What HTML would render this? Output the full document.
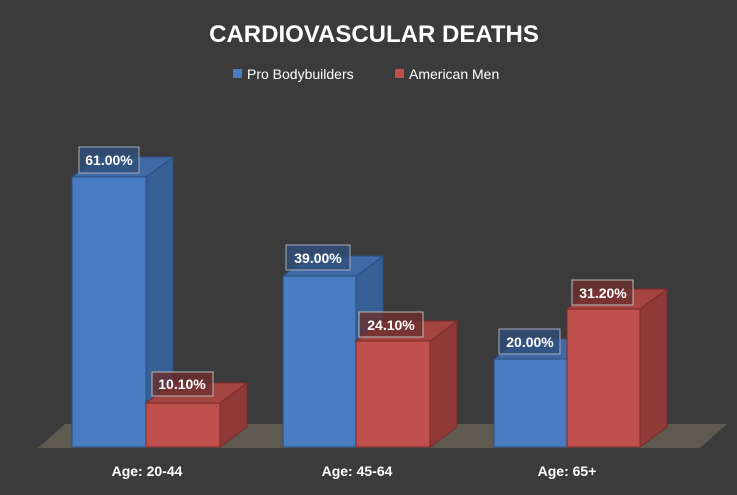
<!DOCTYPE html>
<html><head><style>
body{margin:0;background:#3b3b3b;}
svg{display:block;font-family:"Liberation Sans",sans-serif;}
</style></head><body>
<svg width="737" height="495" viewBox="0 0 737 495">
<rect width="737" height="495" fill="#3b3b3b"/>
<text x="374" y="42" fill="#fff" font-size="24" font-weight="bold" text-anchor="middle">CARDIOVASCULAR DEATHS</text>
<rect x="233" y="69" width="9" height="9" fill="#4a7cc2"/>
<text x="247" y="79" fill="#fff" font-size="14">Pro Bodybuilders</text>
<rect x="395" y="69" width="9" height="9" fill="#c0504d"/>
<text x="409" y="79" fill="#fff" font-size="14">American Men</text>
<polygon points="38,448 700,448 727,424 65,424" fill="#5e5a50"/>
<g stroke-width="1">
<!-- group1 blue -->
<polygon points="146,177 173,157 173,427 146,447" fill="#365f96" stroke="#2b4d7e"/>
<polygon points="72,177 99,157 173,157 146,177" fill="#3f6aa6" stroke="#2b4d7e"/>
<rect x="72" y="177" width="74" height="270" fill="#4a7cc2" stroke="#2b4d7e"/>
<!-- group1 red -->
<polygon points="220,403 247,383 247,427 220,447" fill="#8f3a38" stroke="#7a2a28"/>
<polygon points="146,403 173,383 247,383 220,403" fill="#a54542" stroke="#7a2a28"/>
<rect x="146" y="403" width="74" height="44" fill="#c0504d" stroke="#7a2a28"/>
<!-- group2 blue -->
<polygon points="356,276 383,256 383,427 356,447" fill="#365f96" stroke="#2b4d7e"/>
<polygon points="283,276 310,256 383,256 356,276" fill="#3f6aa6" stroke="#2b4d7e"/>
<rect x="283" y="276" width="73" height="171" fill="#4a7cc2" stroke="#2b4d7e"/>
<!-- group2 red -->
<polygon points="430,341 457,321 457,427 430,447" fill="#8f3a38" stroke="#7a2a28"/>
<polygon points="356,341 383,321 457,321 430,341" fill="#a54542" stroke="#7a2a28"/>
<rect x="356" y="341" width="74" height="106" fill="#c0504d" stroke="#7a2a28"/>
<!-- group3 blue -->
<polygon points="494,359 521,339 594,339 567,359" fill="#3f6aa6" stroke="#2b4d7e"/>
<rect x="494" y="359" width="73" height="88" fill="#4a7cc2" stroke="#2b4d7e"/>
<!-- group3 red -->
<polygon points="640,309 667,289 667,427 640,447" fill="#8f3a38" stroke="#7a2a28"/>
<polygon points="567,309 594,289 667,289 640,309" fill="#a54542" stroke="#7a2a28"/>
<rect x="567" y="309" width="73" height="138" fill="#c0504d" stroke="#7a2a28"/>
</g>
<g font-size="14" font-weight="bold" fill="#fff" text-anchor="middle">
<rect x="79" y="147" width="60" height="26" fill="#2f4f7a" fill-opacity="0.8" stroke="#aab" stroke-width="1"/>
<text x="109" y="165">61.00%</text>
<rect x="152" y="372" width="61" height="24" fill="#6b2e2d" fill-opacity="0.8" stroke="#bbb" stroke-width="1"/>
<text x="182" y="389">10.10%</text>
<rect x="286" y="245" width="64" height="25" fill="#2f4f7a" fill-opacity="0.8" stroke="#aab" stroke-width="1"/>
<text x="318" y="263">39.00%</text>
<rect x="359" y="312" width="64" height="25" fill="#6b2e2d" fill-opacity="0.8" stroke="#bbb" stroke-width="1"/>
<text x="391" y="330">24.10%</text>
<rect x="499" y="329" width="61" height="25" fill="#2f4f7a" fill-opacity="0.8" stroke="#aab" stroke-width="1"/>
<text x="530" y="347">20.00%</text>
<rect x="572" y="280" width="61" height="25" fill="#6b2e2d" fill-opacity="0.8" stroke="#bbb" stroke-width="1"/>
<text x="603" y="298">31.20%</text>
<text x="147" y="476">Age: 20-44</text>
<text x="357" y="476">Age: 45-64</text>
<text x="567" y="476">Age: 65+</text>
</g>
</svg>
</body></html>
